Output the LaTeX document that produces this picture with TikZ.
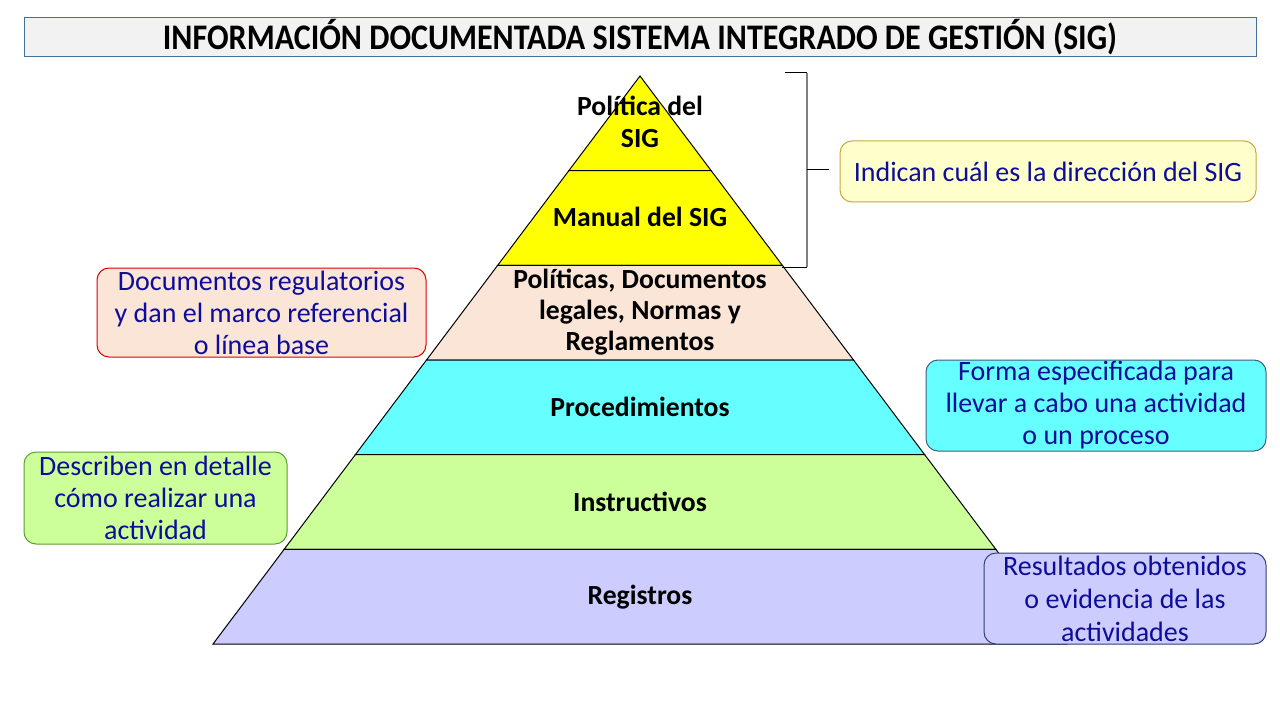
\documentclass[tikz,border=0pt]{standalone}
\usepackage{fontspec}
\setmainfont{Carlito}
\usepackage{xcolor}
\usepackage{tikz}
\usetikzlibrary{positioning,calc}
\definecolor{SIGTitle}{HTML}{F2F2F2}
\definecolor{SIGTitleLine}{HTML}{41719C}
\definecolor{SIGYellow}{HTML}{FFFF00}
\definecolor{SIGPeach}{HTML}{FBE5D6}
\definecolor{SIGCyan}{HTML}{66FFFF}
\definecolor{SIGGreen}{HTML}{CCFF99}
\definecolor{SIGLilac}{HTML}{CCCCFF}
\definecolor{SIGNote}{HTML}{FFFFCC}
\definecolor{SIGGold}{HTML}{C9A83C}
\definecolor{SIGRed}{HTML}{E00000}
\definecolor{SIGSlate}{HTML}{3F5F7F}
\definecolor{SIGLeaf}{HTML}{5E9E32}
\definecolor{SIGInk}{HTML}{2F3F7F}
\definecolor{SIGNavy}{HTML}{0D0D99}

\begin{document}
\begin{tikzpicture}[x=0.75pt,y=-0.75pt,
  lvl/.style={font=\fontsize{20.75}{23.5}\selectfont\bfseries,align=center,inner sep=0pt},
  note/.style={rounded corners=9pt,line width=0.75pt,align=center,text=SIGNavy,font=\fontsize{21}{24}\selectfont,inner sep=0pt}]
\useasboundingbox[fill=white] (0,0) rectangle (1280,720);
% title
\node[fill=SIGTitle,draw=SIGTitleLine,line width=0.75pt,minimum width=924pt,minimum height=29.25pt,inner sep=0pt,font=\fontsize{27}{30}\selectfont\bfseries] (title) at (640,37.5) {\scalebox{0.89}[1]{INFORMACIÓN DOCUMENTADA SISTEMA INTEGRADO DE GESTIÓN (SIG)}};
% pyramid
\coordinate (apex) at (640,76);
\coordinate (bl) at (213,644);
\coordinate (br) at (1067,644);
\foreach \i/\col in {0/SIGYellow,1/SIGYellow,2/SIGPeach,3/SIGCyan,4/SIGGreen,5/SIGLilac}{
  \pgfmathsetmacro\ta{\i/6}
  \pgfmathsetmacro\tb{(\i+1)/6}
  \filldraw[fill=\col,draw=black,line width=0.75pt] ($(apex)!\ta!(bl)$) -- ($(apex)!\tb!(bl)$) -- ($(apex)!\tb!(br)$) -- ($(apex)!\ta!(br)$) -- cycle;
}
\node[lvl] (politica) at (640,122) {Política del\\SIG};
\node[lvl] (manual) at (640,217) {Manual del SIG};
\node[lvl] (normas) at (640,312) {Políticas, Documentos\\legales, Normas y\\Reglamentos};
\node[lvl] (proced) at (640,407) {Procedimientos};
\node[lvl] (instruc) at (640,502) {Instructivos};
\node[lvl] (registros) at (640,597) {Registros};
% notes
\node[note,fill=SIGNote,draw=SIGGold,minimum width=312pt,minimum height=45.75pt] (dir) at (1048,171.5) {Indican cuál es la dirección del SIG};
\node[note,fill=SIGPeach,draw=SIGRed,minimum width=246.75pt,minimum height=66.75pt] (marco) at (261.5,312.5) {Documentos regulatorios\\y dan el marco referencial\\o línea base};
\node[note,fill=SIGCyan,draw=SIGSlate,minimum width=255pt,minimum height=68.25pt] (forma) at (1096,405.5) {Forma especificada para\\llevar a cabo una actividad\\o un proceso};
\node[note,fill=SIGGreen,draw=SIGLeaf,minimum width=197.25pt,minimum height=69pt] (detalle) at (155.5,498) {Describen en detalle\\cómo realizar una\\actividad};
\node[note,fill=SIGLilac,draw=SIGInk,minimum width=211.5pt,minimum height=68.25pt,font=\fontsize{21}{24.75}\selectfont] (result) at (1125,598.5) {Resultados obtenidos\\o evidencia de las\\actividades};
% bracket
\coordinate (brk) at (807,170);
\draw[line width=0.75pt] (785,73) -- (807,73);
\draw[line width=0.75pt] (782,267) -- (807,267);
\draw[gray,line width=1.2pt] (807,73) -- (807,267);
\draw[line width=0.75pt,shorten >=8.25pt] (brk) -- (brk -| dir.west);
\end{tikzpicture}
\end{document}
